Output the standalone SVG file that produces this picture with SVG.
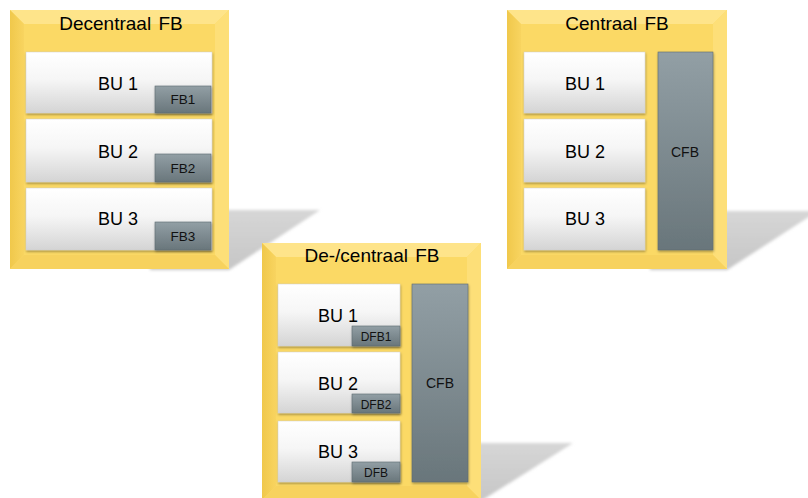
<svg xmlns="http://www.w3.org/2000/svg" width="808" height="498" viewBox="0 0 808 498">
  <defs>
    <style>
      text { font-family: "Liberation Sans", Arial, sans-serif; fill: #000; text-anchor: middle; }
      .title { font-size: 19px; word-spacing: 2px; }
      .bu { font-size: 18px; }
      .tag { font-size: 13.5px; fill: #111; }
      .dtag { font-size: 12px; fill: #111; }
      .cfbt { font-size: 14px; fill: #111; }
      .face { fill: #fbd965; }
      .bev-top { fill: #fee48a; }
      .bev-left { fill: url(#bevLeft); }
      .bev-right { fill: #fddf78; }
      .bev-bottom { fill: #f7d25e; }
      .unit { fill: url(#unitGrad); stroke: #cfcfcf; stroke-width: 0.5; filter: url(#lift); }
      .fb { fill: url(#fbGrad); stroke: #5f6b70; stroke-width: 0.6; filter: url(#lift); }
      .floor { fill: url(#floorGrad); filter: url(#soft); }
    </style>
    <linearGradient id="bevLeft" x1="0" y1="0" x2="1" y2="0">
      <stop offset="0" stop-color="#f0c84b"/>
      <stop offset="1" stop-color="#f8d460"/>
    </linearGradient>
    <linearGradient id="unitGrad" x1="0" y1="0" x2="0" y2="1">
      <stop offset="0" stop-color="#ffffff"/>
      <stop offset="0.45" stop-color="#f6f6f6"/>
      <stop offset="1" stop-color="#d4d4d4"/>
    </linearGradient>
    <linearGradient id="fbGrad" x1="0" y1="0" x2="0" y2="1">
      <stop offset="0" stop-color="#929fa5"/>
      <stop offset="1" stop-color="#69767b"/>
    </linearGradient>
    <linearGradient id="floorGrad" x1="0" y1="0" x2="0" y2="1">
      <stop offset="0" stop-color="#d6d6d6"/>
      <stop offset="1" stop-color="#c6c6c6"/>
    </linearGradient>
    <filter id="soft" x="-10%" y="-10%" width="120%" height="120%">
      <feGaussianBlur stdDeviation="1.5"/>
    </filter>
    <filter id="lift" x="-10%" y="-10%" width="120%" height="130%">
      <feDropShadow dx="0.5" dy="1.5" stdDeviation="1" flood-color="#000" flood-opacity="0.35"/>
    </filter>
  </defs>

  <!-- floor shadows cast by the three panels -->
  <g id="shadows">
    <polygon class="floor" points="150,210 320,210 229,270 150,270"/>
    <polygon class="floor" points="650,211 818,211 727,270 650,270"/>
    <polygon class="floor" points="400,443 573,443 481,501 400,501"/>
  </g>

  <!-- Decentraal FB -->
  <g id="panel-decentraal">
    <rect class="face" x="10" y="10" width="219" height="259"/>
    <polygon class="bev-top" points="10,10 229,10 215,24 24,24"/>
    <polygon class="bev-left" points="10,10 24,24 24,255 10,269"/>
    <polygon class="bev-right" points="229,10 229,269 215,255 215,24"/>
    <polygon class="bev-bottom" points="10,269 229,269 215,255 24,255"/>
    <text class="title" x="121" y="30">Decentraal FB</text>
    <g id="dec-bu1">
      <rect class="unit" x="26" y="52" width="186" height="61"/>
      <text class="bu" x="118" y="90">BU 1</text>
      <rect class="fb" x="155" y="86" width="56" height="27"/>
      <text class="tag" x="183" y="104">FB1</text>
    </g>
    <g id="dec-bu2">
      <rect class="unit" x="26" y="119" width="186" height="63"/>
      <text class="bu" x="118" y="158">BU 2</text>
      <rect class="fb" x="155" y="154" width="56" height="28"/>
      <text class="tag" x="183" y="173">FB2</text>
    </g>
    <g id="dec-bu3">
      <rect class="unit" x="26" y="188" width="186" height="62"/>
      <text class="bu" x="118" y="225">BU 3</text>
      <rect class="fb" x="155" y="222" width="56" height="28"/>
      <text class="tag" x="183" y="241">FB3</text>
    </g>
  </g>

  <!-- Centraal FB -->
  <g id="panel-centraal">
    <rect class="face" x="507" y="10" width="220" height="259"/>
    <polygon class="bev-top" points="507,10 727,10 713,24 521,24"/>
    <polygon class="bev-left" points="507,10 521,24 521,255 507,269"/>
    <polygon class="bev-right" points="727,10 727,269 713,255 713,24"/>
    <polygon class="bev-bottom" points="507,269 727,269 713,255 521,255"/>
    <text class="title" x="617" y="30">Centraal FB</text>
    <g id="cen-bu1">
      <rect class="unit" x="524" y="52" width="121" height="61"/>
      <text class="bu" x="585" y="90">BU 1</text>
    </g>
    <g id="cen-bu2">
      <rect class="unit" x="524" y="119" width="121" height="63"/>
      <text class="bu" x="585" y="158">BU 2</text>
    </g>
    <g id="cen-bu3">
      <rect class="unit" x="524" y="188" width="121" height="62"/>
      <text class="bu" x="585" y="225">BU 3</text>
    </g>
    <g id="cen-cfb">
      <rect class="fb" x="658" y="52" width="55" height="198"/>
      <text class="cfbt" x="685" y="157">CFB</text>
    </g>
  </g>

  <!-- De-/centraal FB -->
  <g id="panel-decentraal-centraal">
    <rect class="face" x="262" y="243" width="219" height="257"/>
    <polygon class="bev-top" points="262,243 481,243 467,257 276,257"/>
    <polygon class="bev-left" points="262,243 276,257 276,486 262,500"/>
    <polygon class="bev-right" points="481,243 481,500 467,486 467,257"/>
    <polygon class="bev-bottom" points="262,500 481,500 467,486 276,486"/>
    <text class="title" x="372" y="262">De-/centraal FB</text>
    <g id="dc-bu1">
      <rect class="unit" x="278" y="284" width="122" height="62"/>
      <text class="bu" x="338" y="322">BU 1</text>
      <rect class="fb" x="352" y="326" width="48" height="20"/>
      <text class="dtag" x="376" y="341">DFB1</text>
    </g>
    <g id="dc-bu2">
      <rect class="unit" x="278" y="352" width="122" height="61"/>
      <text class="bu" x="338" y="390">BU 2</text>
      <rect class="fb" x="352" y="394" width="48" height="19"/>
      <text class="dtag" x="376" y="409">DFB2</text>
    </g>
    <g id="dc-bu3">
      <rect class="unit" x="278" y="421" width="122" height="61"/>
      <text class="bu" x="338" y="458">BU 3</text>
      <rect class="fb" x="352" y="462" width="48" height="20"/>
      <text class="dtag" x="376" y="477">DFB</text>
    </g>
    <g id="dc-cfb">
      <rect class="fb" x="412" y="284" width="56" height="198"/>
      <text class="cfbt" x="440" y="388">CFB</text>
    </g>
  </g>
</svg>
